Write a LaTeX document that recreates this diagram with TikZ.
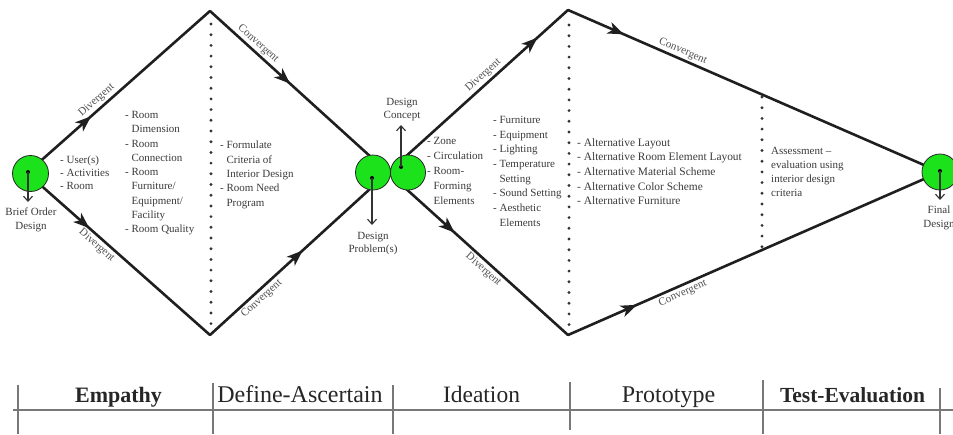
\documentclass[tikz,border=0pt]{standalone}
\usepackage{fontspec}
\setmainfont{Liberation Serif}
\usetikzlibrary{arrows.meta,decorations.markings}
\pgfdeclarelayer{bg}
\pgfsetlayers{bg,main}
\definecolor{cgreen}{RGB}{28,226,28}
\definecolor{ctext}{RGB}{58,58,58}
\definecolor{clabel}{RGB}{80,80,80}
\definecolor{crule}{RGB}{120,120,120}
\begin{document}
\begin{tikzpicture}[x=1pt,y=-1pt,
  flow/.style={line width=2.6pt, draw=black!88, line cap=round},
  midarrow/.style={postaction={decorate,decoration={markings,mark=at position #1 with {\arrow{Stealth[length=16pt,width=12pt,inset=4.5pt]}}}}},
  elbl/.style={sloped, font=\fontsize{11}{13}\selectfont, text=clabel, inner sep=2pt},
  circ/.style={circle, draw=black!85, line width=0.8pt, fill=cgreen, minimum size=35pt, inner sep=0pt},
  ptr/.style={draw=black!80, line width=1.1pt, -{Straight Barb[length=5pt,width=9pt]}},
  dotmark/.style={circle, fill=black, inner sep=0pt, minimum size=4pt},
  lst/.style={align=left, anchor=north west, inner sep=0pt, font=\fontsize{11}{14.3}\selectfont, text=ctext},
  captxt/.style={align=center, anchor=north, inner sep=0pt, font=\fontsize{11}{13.5}\selectfont, text=ctext},
  dots/.style={line width=3.2pt, line cap=round, dash pattern=on 0pt off 10.7pt, draw=black!80},
  phase/.style={anchor=base, inner sep=0pt, font=\fontsize{24}{26}\selectfont, text=black!85},
  rulel/.style={draw=crule, line width=1.3pt}
]
\useasboundingbox (0,0) rectangle (953,434);

% vertices
\coordinate (TL) at (210,11);
\coordinate (BL) at (210,335);
\coordinate (TR) at (568,10);
\coordinate (BR) at (568,335);
\coordinate (X) at (388,172.5);
\coordinate (BOc) at (27,173);

% circles
\node[circ, minimum size=36pt] (BO) at (30.5,173.5) {};
\node[circ] (DP) at (373,172.5) {};
\node[circ] (DC) at (408,172.5) {};
\node[circ, minimum size=36pt] (FD) at (940,172) {};

% main flow lines
\begin{pgfonlayer}{bg}
\draw[flow, midarrow=0.35] (BOc) -- (TL) node[elbl,pos=0.41,above]{Divergent};
\draw[flow, midarrow=0.34] (BOc) -- (BL) node[elbl,pos=0.41,below]{Divergent};
\draw[flow, midarrow=0.45] (TL) -- (X) node[elbl,pos=0.24,above]{Convergent};
\draw[flow, midarrow=0.52] (BL) -- (X) node[elbl,pos=0.26,below]{Convergent};
\draw[flow, midarrow=0.83] (X) -- (TR) node[elbl,pos=0.56,above]{Divergent};
\draw[flow, midarrow=0.37] (X) -- (BR) node[elbl,pos=0.56,below]{Divergent};
\draw[flow, midarrow=0.15] (TR) -- (FD.center) node[elbl,pos=0.30,above]{Convergent};
\draw[flow, midarrow=0.185] (BR) -- (FD.center) node[elbl,pos=0.30,below]{Convergent};
\end{pgfonlayer}

% dotted dividers
\coordinate (d1a) at (211,24);  \coordinate (d1b) at (211,333);
\coordinate (d2a) at (569,25);  \coordinate (d2b) at (569,326);
\coordinate (d3a) at (762,97);  \coordinate (d3b) at (762,248);
\draw[dots] (d1a) -- (d1b);
\draw[dots] (d2a) -- (d2b);
\draw[dots] (d3a) -- (d3b);

% pointers out of circles
\node[dotmark] (BOd) at (28,172) {};
\coordinate (BOa) at (28,202);
\draw[ptr] (BOd.center) -- (BOa);
\node[dotmark] (DPd) at (372,178) {};
\coordinate (DPa) at (372,225);
\draw[ptr] (DPd.center) -- (DPa);
\node[dotmark] (DCd) at (401,167) {};
\coordinate (DCa) at (401,125);
\draw[ptr] (DCd.center) -- (DCa);
\node[dotmark] (FDd) at (940,171) {};
\coordinate (FDa) at (940,200);
\draw[ptr] (FDd.center) -- (FDa);

% captions
\node[captxt] (BOl) at (31,208) {Brief Order\\Design};
\node[captxt] (DPl) at (373,232) {Design\\Problem(s)};
\node[captxt] (DCl) at (402,98) {Design\\Concept};
\node[captxt] (FDl) at (939,206) {Final\\Design};

% lists
\node[lst, font=\fontsize{11}{13}\selectfont] (L1) at (60,156) {- User(s)\\- Activities\\- Room};
\node[lst] (L2) at (125,111) {- Room\\\phantom{- }Dimension\\- Room\\\phantom{- }Connection\\- Room\\\phantom{- }Furniture/\\\phantom{- }Equipment/\\\phantom{- }Facility\\- Room Quality};
\node[lst] (L3) at (220,141) {- Formulate\\\phantom{- }Criteria of\\\phantom{- }Interior Design\\- Room Need\\\phantom{- }Program};
\node[lst, font=\fontsize{11}{15}\selectfont] (L4) at (427,137) {- Zone\\- Circulation\\- Room-\\\phantom{- }Forming\\\phantom{- }Elements};
\node[lst, font=\fontsize{11}{14.7}\selectfont] (L5) at (493,116) {- Furniture\\- Equipment\\- Lighting\\- Temperature\\\phantom{- }Setting\\- Sound Setting\\- Aesthetic\\\phantom{- }Elements};
\node[lst, font=\fontsize{11.4}{14.7}\selectfont] (L6) at (577,138) {- Alternative Layout\\- Alternative Room Element Layout\\- Alternative Material Scheme\\- Alternative Color Scheme\\- Alternative Furniture};
\node[lst, font=\fontsize{11}{14}\selectfont] (L7) at (771,147) {Assessment --\\evaluation using\\interior design\\criteria};

% phase table
\coordinate (hA) at (13,410); \coordinate (hB) at (953,410);
\draw[rulel] (hA) -- (hB);
\draw[rulel] (18,385) -- (18,434);
\draw[rulel] (213,383) -- (213,434);
\draw[rulel] (393,385) -- (393,434);
\draw[rulel] (570,382) -- (570,430);
\draw[rulel] (763,380) -- (763,434);
\draw[rulel] (940,388) -- (940,434);
\node[phase, font=\fontsize{22}{26}\selectfont\bfseries] (P1) at (118.5,402) {Empathy};
\node[phase] (P2) at (300,402) {Define-Ascertain};
\node[phase, font=\fontsize{23.5}{26}\selectfont] (P3) at (481.5,402) {Ideation};
\node[phase] (P4) at (668.5,402) {Prototype};
\node[phase, font=\fontsize{21.5}{26}\selectfont\bfseries] (P5) at (852.5,402) {Test-Evaluation};
\end{tikzpicture}
\end{document}
